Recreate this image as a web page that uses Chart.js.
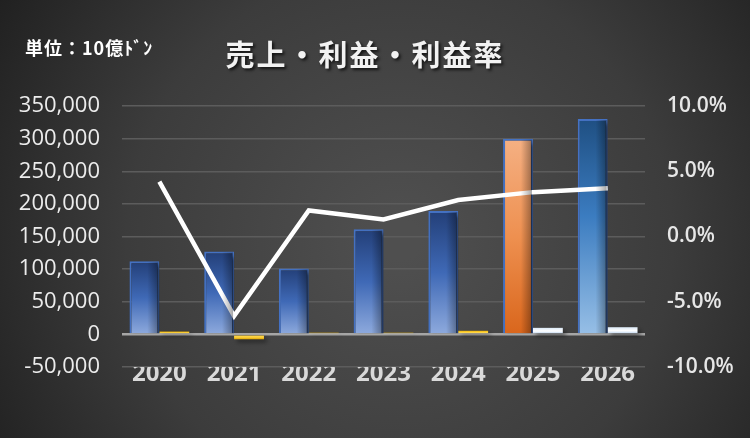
<!DOCTYPE html>
<html>
<head>
<meta charset="utf-8">
<script src="https://cdn.jsdelivr.net/npm/chart.js@4.4.1/dist/chart.umd.min.js"></script>
<style>
  html, body { margin: 0; padding: 0; background: #333; }
  #wrap { width: 750px; height: 438px; position: relative; }
</style>
</head>
<body>
<div id="wrap"><canvas id="myChart" width="750" height="438"></canvas></div>
<script>
const years = ['2020', '2021', '2022', '2023', '2024', '2025', '2026'];
const revenue = [112000, 127000, 101000, 161000, 189000, 300000, 330000];
const profit = [4300, -7500, 2500, 2500, 5500, 10000, 11000];
const margin = [0.042, -0.061, 0.020, 0.013, 0.028, 0.034, 0.037];
const leftTicks = [-50000, 0, 50000, 100000, 150000, 200000, 250000, 300000, 350000];
const rightTicks = [-0.10, -0.05, 0, 0.05, 0.10];

// pixel span of a bar from the y scale (falls back to the chart area)
function barSpan(c) {
  const chart = c.chart;
  const area = chart.chartArea;
  const ys = chart.scales.y;
  let a = area.top, b = area.bottom;
  if (ys && c.raw !== undefined) {
    const p1 = ys.getPixelForValue(c.raw);
    const p0 = ys.getPixelForValue(0);
    if (isFinite(p1) && isFinite(p0)) { a = Math.min(p0, p1); b = Math.max(p0, p1); }
  }
  if (b - a < 1) b = a + 1;
  return [a, b];
}

function revenueColor(c) {
  const chart = c.chart;
  if (!chart.chartArea) return '#4472c4';
  const [top, bot] = barSpan(c);
  const g = chart.ctx.createLinearGradient(0, top, 0, bot);
  if (c.dataIndex === 5) {
    g.addColorStop(0, '#f5b083'); g.addColorStop(0.5, '#ee9050'); g.addColorStop(1, '#d9661c');
  } else if (c.dataIndex === 6) {
    g.addColorStop(0, '#1f4f82'); g.addColorStop(0.45, '#3b7cc0'); g.addColorStop(1, '#97bfe6');
  } else {
    g.addColorStop(0, '#233f78'); g.addColorStop(0.5, '#3f69b6'); g.addColorStop(1, '#8eaadd');
  }
  return g;
}

function profitColor(c) {
  const chart = c.chart;
  if (!chart.chartArea) return '#ffc000';
  const [top, bot] = barSpan(c);
  const g = chart.ctx.createLinearGradient(0, top, 0, bot);
  if (c.dataIndex >= 5) {
    g.addColorStop(0, '#dbe9f7'); g.addColorStop(0.5, '#ffffff'); g.addColorStop(1, '#a9c8ea');
  } else {
    g.addColorStop(0, '#f2b600'); g.addColorStop(0.5, '#ffd84a'); g.addColorStop(1, '#e0a400');
  }
  return g;
}

const bgPlugin = {
  id: 'bg',
  beforeDraw(chart) {
    const ctx = chart.ctx;
    const w = chart.width, h = chart.height;
    const g = ctx.createRadialGradient(400, 240, 20, 400, 240, 480);
    g.addColorStop(0, '#4f4f4f');
    g.addColorStop(0.55, '#3c3c3c');
    g.addColorStop(1, '#1f1f1f');
    ctx.save();
    ctx.fillStyle = g;
    ctx.fillRect(0, 0, w, h);
    ctx.restore();
  },
  afterDatasetsDraw(chart) {
    // darker right edge on each revenue bar, like the reference's side shading
    const ctx = chart.ctx;
    const meta = chart.getDatasetMeta(1);
    ctx.save();
    meta.data.forEach(bar => {
      const left = bar.x - bar.width / 2 + 1, right = bar.x + bar.width / 2 - 1;
      const top = Math.min(bar.y, bar.base) + 1, bot = Math.max(bar.y, bar.base);
      const g = ctx.createLinearGradient(left, 0, right, 0);
      g.addColorStop(0, 'rgba(0,0,0,0)');
      g.addColorStop(0.6, 'rgba(0,0,0,0)');
      g.addColorStop(1, 'rgba(0,0,0,0.35)');
      ctx.fillStyle = g;
      ctx.fillRect(left, top, right - left, bot - top);
    });
    ctx.restore();
  },
  afterDraw(chart) {
    const ctx = chart.ctx;
    ctx.save();
    ctx.fillStyle = '#ffffff';
    ctx.textBaseline = 'middle';
    ctx.font = 'bold 18px "Noto Sans CJK JP"';
    ctx.letterSpacing = '1px';
    ctx.textAlign = 'left';
    ctx.fillText('単位：10億ﾄﾞﾝ', 25, 48);
    ctx.shadowColor = 'rgba(0,0,0,0.7)';
    ctx.shadowOffsetX = 2;
    ctx.shadowOffsetY = 2;
    ctx.shadowBlur = 3;
    ctx.fillStyle = '#f2f2f2';
    ctx.font = 'bold 29px "Noto Sans CJK JP"';
    ctx.letterSpacing = '2px';
    ctx.textAlign = 'center';
    ctx.fillText('売上・利益・利益率', 365, 55);
    ctx.restore();
  }
};

const barShadow = {
  id: 'barShadow',
  beforeDatasetDraw(chart, args) {
    if (args.meta.type !== 'bar') return;
    chart.ctx.save();
    chart.ctx.shadowColor = 'rgba(0,0,0,0.45)';
    chart.ctx.shadowOffsetX = 3;
    chart.ctx.shadowOffsetY = 3;
    chart.ctx.shadowBlur = 4;
  },
  afterDatasetDraw(chart, args) {
    if (args.meta.type !== 'bar') return;
    chart.ctx.restore();
  }
};

const data = {
  labels: years,
  datasets: [
    {
      type: 'line',
      label: '利益率',
      data: margin,
      yAxisID: 'y1',
      borderColor: '#ffffff',
      borderWidth: 4.5,
      pointRadius: 0,
      tension: 0,
      order: 0
    },
    {
      type: 'bar',
      label: '売上',
      data: revenue,
      yAxisID: 'y',
      backgroundColor: revenueColor,
      borderColor: '#4472c4',
      borderWidth: 2,
      borderSkipped: 'bottom',
      categoryPercentage: 0.8,
      barPercentage: 1,
      order: 1
    },
    {
      type: 'bar',
      label: '利益',
      data: profit,
      yAxisID: 'y',
      backgroundColor: profitColor,
      borderWidth: 0,
      categoryPercentage: 0.8,
      barPercentage: 1,
      order: 1
    }
  ]
};

const config = {
  type: 'bar',
  data: data,
  plugins: [bgPlugin, barShadow],
  options: {
    responsive: false,
    animation: false,
    layout: {
      padding: { top: 106, left: 0, right: 0, bottom: 0 }
    },
    plugins: {
      legend: { display: false },
      tooltip: { enabled: false }
    },
    scales: {
      x: {
        grid: { display: false, drawTicks: false },
        border: { display: false },
        ticks: {
          color: '#d9d9d9',
          font: { family: 'Open Sans', size: 24, weight: 'bold' },
          padding: -7
        },
        afterFit(scale) { scale.height = 71; }
      },
      y: {
        position: 'left',
        min: -50000,
        max: 350000,
        afterBuildTicks(scale) { scale.ticks = leftTicks.map(v => ({ value: v })); },
        grid: {
          drawTicks: false,
          color: c => c.tick && c.tick.value === 0 ? '#a6a6a6' : '#5c5c5c',
          lineWidth: c => c.tick && c.tick.value === 0 ? 2.5 : 1.5
        },
        border: { display: false },
        ticks: {
          color: '#ececec',
          font: { family: 'Open Sans', size: 22 },
          padding: 22,
          callback: v => v.toLocaleString('en-US')
        },
        afterFit(scale) { scale.width = 122; }
      },
      y1: {
        position: 'right',
        min: -0.1,
        max: 0.1,
        afterBuildTicks(scale) { scale.ticks = rightTicks.map(v => ({ value: v })); },
        grid: { display: false, drawTicks: false },
        border: { display: false },
        ticks: {
          color: '#e6e6e6',
          font: { family: 'Open Sans', size: 21, weight: '600' },
          padding: 22,
          callback: v => (v * 100).toFixed(1) + '%'
        },
        afterFit(scale) { scale.width = 105; }
      }
    }
  }
};

var myChart = new Chart(
  document.getElementById('myChart'),
  config
);
</script>
</body>
</html>
